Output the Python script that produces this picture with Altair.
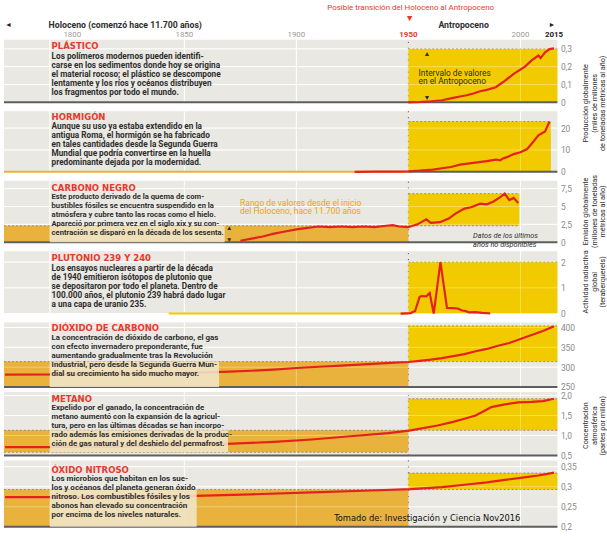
import altair as alt
import pandas as pd

# ---------------- data ----------------
X0, X1 = 1769.5, 2016.5
W = 558

grid_years = [1790, 1850, 1900, 2000]

plastic_year = [1950, 1955, 1960, 1965, 1970, 1973, 1976, 1979, 1982, 1985, 1989, 1993, 1997, 2002, 2005, 2008, 2009, 2011, 2013, 2015]
plastic_val = [0.0, 0.002, 0.006, 0.012, 0.025, 0.033, 0.04, 0.05, 0.062, 0.07, 0.085, 0.12, 0.16, 0.2, 0.235, 0.262, 0.248, 0.28, 0.298, 0.302]

concrete_year = [1926, 1935, 1945, 1950, 1955, 1961, 1965, 1969, 1973, 1979, 1985, 1989, 1991, 1992, 1994, 1997, 2000, 2003, 2006, 2008, 2011, 2013]
concrete_val = [0.0, 0.05, 0.1, 0.2, 0.5, 1.0, 1.6, 2.2, 3.3, 4.1, 4.9, 5.6, 5.2, 6.0, 6.7, 8.1, 8.9, 10.4, 14.1, 16.7, 18.5, 23.0]

carbon_year = [1875, 1880, 1885, 1890, 1895, 1900, 1905, 1910, 1915, 1920, 1925, 1930, 1935, 1940, 1943, 1946, 1950, 1954, 1958, 1960, 1964, 1968, 1971, 1975, 1978, 1982, 1985, 1988, 1991, 1993, 1995, 1997, 1999]
carbon_val = [0.2, 0.5, 0.8, 1.2, 1.5, 1.8, 2.0, 2.2, 2.1, 2.2, 2.1, 2.2, 2.1, 2.3, 2.4, 2.2, 2.1, 2.5, 3.2, 2.7, 2.8, 3.3, 4.0, 4.7, 4.9, 5.4, 5.3, 5.7, 6.3, 6.8, 5.9, 6.2, 5.5]

pu_year = [1946.5, 1951, 1953, 1955, 1956, 1958, 1959.5, 1961.3, 1964.3, 1967.2, 1970, 1972, 1974, 1975.5, 1977, 1980, 1983, 1986.5]
pu_val = [0.0, 0.02, 0.1, 0.65, 0.68, 0.67, 0.8, 0.0, 2.0, 0.22, 0.21, 0.2, 0.12, 0.1, 0.05, 0.06, 0.03, 0.01]

co2_year = [1770, 1790, 1800, 1820, 1840, 1860, 1870, 1880, 1890, 1900, 1910, 1920, 1930, 1940, 1950, 1955, 1960, 1965, 1970, 1975, 1980, 1985, 1990, 1995, 2000, 2005, 2010, 2015]
co2_val = [281, 281.5, 282, 283, 284.5, 287, 289, 291, 294, 298, 301, 304, 307, 310, 313, 316, 319, 323, 328, 333, 340, 346, 354, 361, 371, 381, 391, 403]

ch4_year = [1770, 1790, 1820, 1850, 1869, 1890, 1907, 1924, 1941, 1951, 1963, 1970, 1975, 1980, 1984, 1987, 1993, 1999, 2005, 2010, 2015]
ch4_val = [0.71, 0.71, 0.72, 0.75, 0.79, 0.84, 0.9, 0.98, 1.06, 1.13, 1.25, 1.34, 1.42, 1.5, 1.62, 1.71, 1.78, 1.83, 1.84, 1.86, 1.92]

n2o_year = [1770, 1790, 1820, 1855, 1880, 1907, 1930, 1951, 1965, 1975, 1985, 1993, 2000, 2008, 2015]
n2o_val = [0.274, 0.274, 0.275, 0.277, 0.281, 0.286, 0.29, 0.294, 0.299, 0.305, 0.311, 0.317, 0.322, 0.328, 0.335]

gray_years = [1800, 1850, 1900, 2000]
red_years = [1950]
bold_years = [2015]

# ---------------- style ----------------
BG = "#e9e8e2"
YEL = "#f1cb00"
ORA = "#e8b23c"
CREAM = "#f0e6cb"
RED = "#e3221b"
TRED = "#e8392c"
TXT = "#2e2e2e"
AX = "#8a8a8a"
BASE = "#5e5e5e"
NARROW = "'Liberation Sans Narrow', 'Arial Narrow', Roboto, sans-serif"
WIDE = "'DejaVu Sans', Verdana, sans-serif"


def xs(field="year"):
    return alt.X(f"{field}:Q", scale=alt.Scale(domain=[X0, X1], nice=False, zero=False), axis=None)


def make_y(dom, ticks, fmt):
    scale = alt.Scale(domain=dom, nice=False, zero=False)
    axis = alt.Axis(orient="right", values=ticks, format=fmt, labelExpr="replace(datum.label, '.', ',')",
                    grid=False, ticks=False, domain=False, title=None, labelColor=AX, labelFontSize=8.5,
                    labelFont=NARROW, labelPadding=3, labelOverlap=False)

    def y(field):
        return alt.Y(f"{field}:Q", scale=scale, axis=axis)
    return y


one = pd.DataFrame({"k": [0]})


def label(x, y, t, size=8.2, color=TXT, weight="normal", align="left", font=NARROW, style="normal",
          baseline="middle", angle=0, lh=9):
    kw = dict(align=align, baseline=baseline, fontSize=size, color=color, fontWeight=weight, font=font,
              fontStyle=style, lineHeight=lh)
    if angle:
        kw["angle"] = angle
    return alt.Chart(one).mark_text(**kw).encode(x=alt.value(x), y=alt.value(y), text=alt.value(t))


def panel(h, gap, dom, ticks, fmt, line_years, line_vals, title, body, title_y, body_y, lh,
          yellow=None, orange=None, cream=None, base=None, extra=None, right_title=None, body_size=8.3):
    upp = (dom[1] - dom[0]) / h
    lo_all = dom[0] - gap * upp
    y = make_y([lo_all, dom[1]], ticks, fmt)
    layers = []
    layers.append(alt.Chart(pd.DataFrame([{"x0": X0, "x1": X1, "y0": dom[0], "y1": dom[1]}])).mark_rect(color=BG).encode(
        x=xs("x0"), x2="x1", y=y("y0"), y2="y1"))
    gdf = pd.DataFrame({"year": grid_years, "y0": dom[0], "y1": dom[1]})
    tdf = pd.DataFrame({"v": ticks, "x0": X0, "x1": X1})
    layers.append(alt.Chart(gdf).mark_rule(color="white", strokeWidth=1).encode(x=xs(), y=y("y0"), y2="y1"))
    layers.append(alt.Chart(tdf).mark_rule(color="white", strokeWidth=1).encode(y=y("v"), x=xs("x0"), x2="x1"))
    layers.append(alt.Chart(pd.DataFrame({"year": [1950], "y0": dom[0], "y1": dom[1]})).mark_rule(
        color="#444", strokeDash=[1, 5], strokeWidth=1).encode(x=xs(), y=y("y0"), y2="y1"))
    boxes = []
    if orange:
        for (a, b, lo, hi) in orange:
            boxes.append({"x0": a, "x1": b, "y0": lo, "y1": hi, "c": ORA})
    if yellow:
        a, b, lo, hi = yellow
        boxes.append({"x0": a, "x1": b, "y0": lo, "y1": hi, "c": YEL})
    if boxes:
        bdf = pd.DataFrame(boxes)
        layers.append(alt.Chart(bdf).mark_rect().encode(
            x=xs("x0"), x2="x1", y=y("y0"), y2="y1", color=alt.Color("c:N", scale=None)))
        edges = []
        for bx in boxes:
            for v in (bx["y0"], bx["y1"]):
                if v > dom[0]:
                    edges.append({"x0": bx["x0"], "x1": bx["x1"], "v": v})
        if edges:
            layers.append(alt.Chart(pd.DataFrame(edges)).mark_rule(color="#8c7d55", strokeDash=[2, 2], strokeWidth=0.8).encode(
                x=xs("x0"), x2="x1", y=y("v")))
        layers.append(alt.Chart(gdf).mark_rule(color="white", strokeWidth=1, opacity=0.35).encode(x=xs(), y=y("y0"), y2="y1"))
        layers.append(alt.Chart(tdf).mark_rule(color="white", strokeWidth=1, opacity=0.35).encode(y=y("v"), x=xs("x0"), x2="x1"))
    if base:
        bl = pd.DataFrame([{"x0": a, "x1": b, "v": dom[0], "c": c} for (a, b, c) in base])
        layers.append(alt.Chart(bl).mark_rule(strokeWidth=2).encode(
            x=xs("x0"), x2="x1", y=y("v"), color=alt.Color("c:N", scale=None)))
    ldf = pd.DataFrame({"year": line_years, "value": line_vals})
    layers.append(alt.Chart(ldf).mark_line(color=RED, strokeWidth=2.2).encode(x=xs(), y=y("value")))
    if cream:
        a, b, lo, hi = cream
        cdf = pd.DataFrame([{"x0": a, "x1": b, "y0": lo, "y1": hi}])
        layers.append(alt.Chart(cdf).mark_rect(color=CREAM, opacity=0.88).encode(
            x=xs("x0"), x2="x1", y=y("y0"), y2="y1"))
    layers.append(label(48, title_y, title, size=8.6, color=TRED, weight="bold", font=WIDE, baseline="top"))
    layers.append(label(48, body_y, body, size=body_size, weight="bold", baseline="top", lh=lh))
    if right_title:
        layers.append(label(W + 25, right_title[0], right_title[1], size=7.3, align="center",
                            baseline="top", angle=270, lh=8.6))
    if extra:
        layers.extend(extra)
    return alt.layer(*layers).properties(width=W, height=h + gap)


# ---------------- header ----------------
def year_text(years, color, weight):
    return alt.Chart(pd.DataFrame({"year": years, "t": [str(v) for v in years]})).mark_text(
        baseline="middle", fontSize=8, font=NARROW, color=color, fontWeight=weight).encode(
        x=xs(), y=alt.value(33), text="t:N")


header = alt.layer(
    year_text(gray_years, "#9a9a9a", "normal"),
    year_text(red_years, TRED, "bold"),
    year_text(bold_years, "#222", "bold"),
    label(410, 6, "Posible transición del Holoceno al Antropoceno", size=8, color=TRED, align="center"),
    label(409, 15.5, "▼", size=9, color=TRED, align="center"),
    label(1, 23, "◄", size=7, color="#222"),
    label(45, 23, "Holoceno (comenzó hace 11.700 años)", size=8.8, weight="bold"),
    label(438, 23, "Antropoceno", size=8.8, weight="bold"),
    label(549, 23, "►", size=7, color="#222"),
).properties(width=W, height=38)

# ---------------- panels ----------------
p1 = panel(63, 9, [0, 0.35], [0, 0.1, 0.2, 0.3], ".1~f", plastic_year, plastic_val,
           "PLÁSTICO",
           ["Los polímeros modernos pueden identifi-", "carse en los sedimentos donde hoy se origina",
            "el material rocoso; el plástico se descompone", "lentamente y los ríos y océanos distribuyen",
            "los fragmentos por todo el mundo."], 2, 12, 9.15,
           yellow=(1950, X1, 0, 0.3), base=[(X0, X1, BASE)],
           extra=[label(423, 14, "▲", size=7), label(418, 33, ["Intervalo de valores", "en el Antropoceno"], size=8.4),
                  label(423, 59, "▼", size=7)],
           right_title=(64, ["Producción globalmente", "(miles de millones", "de toneladas métricas al año)"]))

p2 = panel(61, 9, [0, 27.7], [0, 10, 20], "d", concrete_year, concrete_val,
           "HORMIGÓN",
           ["Aunque su uso ya estaba extendido en la", "antigua Roma, el hormigón se ha fabricado",
            "en tales cantidades desde la Segunda Guerra", "Mundial que podría convertirse en la huella",
            "predominante dejada por la modernidad."], 1.7, 11.2, 9.1,
           yellow=(1950, 2013.6, 0, 23.0), base=[(X0, 1950, ORA), (1950, X1, BASE)])

p3 = panel(62, 9, [0, 8.61], [0, 2.5, 5, 7.5], ".1~f", carbon_year, carbon_val,
           "CARBONO NEGRO",
           ["Este producto derivado de la quema de com-", "bustibles fósiles se encuentra suspendido en la",
            "atmósfera y cubre tanto las rocas como el hielo.", "Apareció por primera vez en el siglo xix y su con-",
            "centración se disparó en la década de los sesenta."], 3.3, 12.2, 9.15, body_size=7.7,
           yellow=(1950, 1999.5, 2.3, 6.8), orange=[(X0, 1950, 0, 2.3)], cream=(1790, 1868, 0, 2.3),
           base=[(X0, X1, BASE)],
           extra=[label(238, 22, ["Rango de valores desde el inicio", "del Holoceno, hace 11.700 años"], size=8.6, color="#f5a10f"),
                  label(227, 48, "▲", size=6.5, align="center"), label(227, 60, "▼", size=6.5, align="center"),
                  label(473, 56, ["Datos de los últimos", "años no disponibles"], size=7.4, style="italic")],
           right_title=(31, ["Emisión globalmente", "(millones de toneladas", "métricas al año)"]))

p4 = panel(63, 9, [0, 2.423], [0, 1, 2], "d", pu_year, pu_val,
           "PLUTONIO 239 Y 240",
           ["Los ensayos nucleares a partir de la década", "de 1940 emitieron isótopos de plutonio que",
            "se depositaron por todo el planeta. Dentro de", "100.000 años, el plutonio 239 habrá dado lugar",
            "a una capa de uranio 235."], 3.3, 13.5, 9.0,
           yellow=(1950, X1, 0, 2.0), base=[(1843, 1950, YEL)],
           right_title=(31, ["Actividad radiactiva", "global", "(teraberquerels)"]))

p5 = panel(65, 5, [250, 412.5], [250, 300, 350, 400], "d", co2_year, co2_val,
           "DIÓXIDO DE CARBONO",
           ["La concentración de dióxido de carbono, el gas", "con efecto invernadero preponderante, fue",
            "aumentando gradualmente tras la Revolución", "Industrial, pero desde la Segunda Guerra Mun-",
            "dial su crecimiento ha sido mucho mayor."], 2, 11.8, 9.1, body_size=8.0,
           yellow=(1950, X1, 314, 404), orange=[(X0, 1950, 250, 314)], cream=(1790, 1865.5, 250, 314),
           base=[(X0, X1, BASE)])

p6 = panel(64, 5, [0.5, 2.09], [0.5, 1.0, 1.5, 2.0], ".1f", ch4_year, ch4_val,
           "METANO",
           ["Expelido por el ganado, la concentración de", "metano aumentó con la expansión de la agricul-",
            "tura, pero en las últimas décadas se han incorpo-", "rado además las emisiones derivadas de la produc-",
            "ción de gas natural y del deshielo del permafrost."], 3, 12.5, 8.9, body_size=7.9,
           yellow=(1950, X1, 1.13, 1.92), orange=[(X0, 1950, 0.58, 1.13)], cream=(1790, 1869.5, 0.58, 1.13),
           base=[(X0, X1, BASE)],
           right_title=(34, ["Concentración", "atmosférica", "(partes por millón)"]))

p7 = panel(67, 5, [0.2, 0.3656], [0.2, 0.25, 0.3, 0.35], ".2~f", n2o_year, n2o_val,
           "ÓXIDO NITROSO",
           ["Los microbios que habitan en los sue-", "los y océanos del planeta generan óxido",
            "nitroso. Los combustibles fósiles y los", "abonos han elevado su concentración",
            "por encima de los niveles naturales."], 5.3, 15.2, 9.0, body_size=8.1,
           yellow=(1950, X1, 0.293, 0.334), orange=[(X0, 1950, 0.2, 0.293)], cream=(1790, 1855.5, 0.2, 0.293),
           base=[(X0, X1, BASE)],
           extra=[label(333, 58, "Tomado de: Investigación y Ciencia Nov2016", size=9.3, color="#111",
                        font="'DejaVu Sans Condensed', 'Liberation Sans Narrow', sans-serif")])

chart = alt.vconcat(header, p1, p2, p3, p4, p5, p6, p7, spacing=0, bounds="flush").properties(
    padding=0, background="white"
).configure_view(fill=None, stroke=None)

chart.save("out.html", embed_options={"renderer": "svg", "actions": False})
